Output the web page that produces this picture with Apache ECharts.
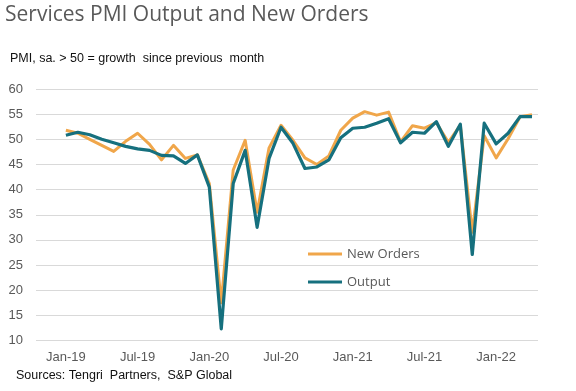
<!DOCTYPE html>
<html><head><meta charset="utf-8">
<script src="https://cdn.jsdelivr.net/npm/echarts@6/dist/echarts.min.js"></script>
<style>html,body{margin:0;padding:0;background:#fff}#c{width:576px;height:391px}</style>
</head><body><div id="c"></div>
<script>
const months = ['Jan-19','Feb-19','Mar-19','Apr-19','May-19','Jun-19','Jul-19','Aug-19','Sep-19','Oct-19','Nov-19','Dec-19',
  'Jan-20','Feb-20','Mar-20','Apr-20','May-20','Jun-20','Jul-20','Aug-20','Sep-20','Oct-20','Nov-20','Dec-20',
  'Jan-21','Feb-21','Mar-21','Apr-21','May-21','Jun-21','Jul-21','Aug-21','Sep-21','Oct-21','Nov-21','Dec-21',
  'Jan-22','Feb-22','Mar-22','Apr-22'];
const newOrders = [51.8, 51.2, 50.0, 48.8, 47.6, 49.6, 51.2, 49.0, 45.9, 48.8, 46.2, 46.9,
  41.2, 17.5, 43.9, 49.8, 35.5, 48.3, 52.8, 49.8, 46.3, 45.0, 46.7, 51.8,
  54.2, 55.5, 54.8, 55.4, 49.5, 52.7, 52.2, 53.3, 49.4, 52.8, 31.5, 50.7,
  46.3, 50.1, 54.5, 54.9];
const output = [50.8, 51.4, 50.9, 50.0, 49.3, 48.6, 48.1, 47.8, 46.8, 46.7, 45.2, 46.9,
  40.5, 12.3, 41.2, 47.8, 32.5, 46.2, 52.4, 49.2, 44.2, 44.5, 45.9, 50.3,
  52.2, 52.4, 53.2, 54.1, 49.3, 51.4, 51.2, 53.5, 48.6, 53.0, 27.1, 53.2,
  49.1, 51.2, 54.5, 54.5];
const xTickLabels = ['Jan-19','Jul-19','Jan-20','Jul-20','Jan-21','Jul-21','Jan-22'];
const seriesNames = ['New Orders','Output'];

const xTickPos = xTickLabels.map(l => months.indexOf(l));
const chart = echarts.init(document.getElementById('c'), null, {renderer:'canvas'});
const axisFont = {fontFamily:'Liberation Sans', fontSize:13, color:'#595959'};
chart.setOption({
  animation:false,
  title:[
    {text:'Services PMI Output and New Orders', left:5, top:5, padding:0,
     textStyle:{fontFamily:'Open Sans', fontSize:21, fontWeight:'normal', color:'#595959'}},
    {text:'PMI, sa. > 50 = growth  since previous  month', left:10, top:52, padding:0,
     textStyle:{fontFamily:'Liberation Sans', fontSize:12.5, fontWeight:'normal', color:'#111'}},
    {text:'Sources: Tengri  Partners,  S&P Global', left:16, top:369, padding:0,
     textStyle:{fontFamily:'Liberation Sans', fontSize:12.5, fontWeight:'normal', color:'#111'}}
  ],
  legend:{data:seriesNames, orient:'vertical', left:303, top:241, icon:'rect',
    itemWidth:34, itemHeight:3, itemGap:12,
    textStyle:{fontFamily:'Open Sans', fontSize:13, color:'#595959', lineHeight:16}},
  grid:{left:36, right:38, top:89, bottom:50.5},
  xAxis:{type:'value', min:-2.5, max:months.length-0.5,
    axisLine:{show:false}, axisTick:{show:false}, splitLine:{show:false},
    axisLabel:Object.assign({customValues:xTickPos, formatter:v => months[v], margin:10}, axisFont)},
  yAxis:{type:'value', min:10, max:60, interval:5,
    axisLine:{show:false}, axisTick:{show:false},
    splitLine:{lineStyle:{color:'#d9d9d9', width:1}},
    axisLabel:Object.assign({margin:13}, axisFont)},
  series:[
    {name:seriesNames[0], type:'line', symbol:'none', color:'#F0A64A',
     lineStyle:{width:3, color:'#F0A64A', join:'round'}, data:newOrders.map((v,i)=>[i,v])},
    {name:seriesNames[1], type:'line', symbol:'none', color:'#16707E',
     lineStyle:{width:3.2, color:'#16707E', join:'round'}, data:output.map((v,i)=>[i,v])}
  ]
});
</script></body></html>
